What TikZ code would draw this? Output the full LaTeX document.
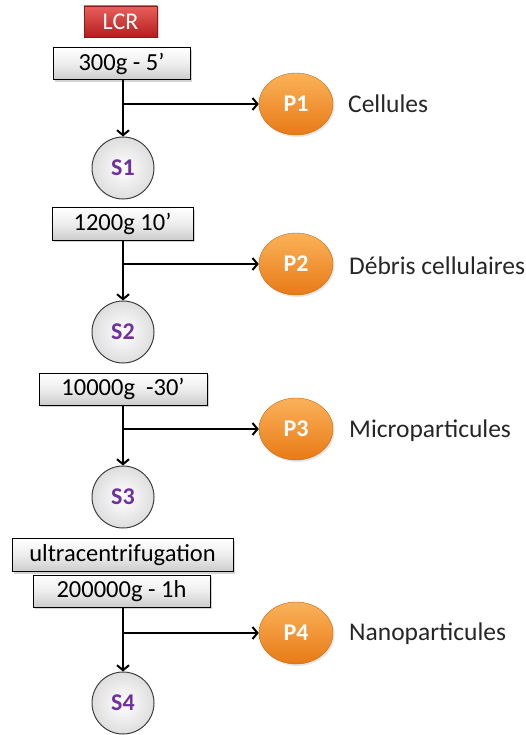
\documentclass[tikz,border=0pt]{standalone}
\usepackage{fontspec}
\setmainfont{Carlito}
\usetikzlibrary{arrows.meta,shadows,shapes.geometric}
\definecolor{spurple}{RGB}{112,48,160}
\definecolor{porange1}{RGB}{251,178,90}
\definecolor{porange2}{RGB}{232,122,22}
\definecolor{lcrtop}{RGB}{232,96,92}
\definecolor{lcrbot}{RGB}{180,30,30}
\tikzset{
  cbox/.style={draw=black, line width=1pt, top color=white, bottom color=black!20,
    middle color=black!7, inner sep=0pt, font=\fontsize{24.5}{24.5}\selectfont,
    drop shadow={opacity=0.35, shadow xshift=2pt, shadow yshift=-2pt}},
  lcrbox/.style={draw=lcrbot!80!black, line width=0.6pt, top color=lcrtop, bottom color=lcrbot,
    inner sep=0pt, text=white, font=\fontsize{24}{24}\selectfont,
    drop shadow={opacity=0.3, shadow xshift=1.5pt, shadow yshift=-1.5pt}},
  snode/.style={circle, draw=black!75, line width=1pt, inner sep=0pt, minimum size=62pt,
    inner color=white, outer color=black!13, text=spurple,
    font=\fontsize{24}{24}\selectfont\bfseries},
  pnode/.style={ellipse, draw=porange2!85!black, line width=0.4pt, inner sep=0pt,
    minimum width=74pt, minimum height=62pt, top color=porange1, bottom color=porange2,
    text=white, font=\fontsize{24}{24}\selectfont\bfseries,
    drop shadow={opacity=0.2, shadow xshift=1.5pt, shadow yshift=-2pt}},
  plabel/.style={anchor=west, inner sep=0pt, text=black!85, font=\fontsize{25.5}{25.5}\selectfont},
  flow/.style={line width=2.2pt, -{Straight Barb[length=5pt,width=12pt,line width=2pt]}}
}
\begin{document}
\begin{tikzpicture}[x=1pt,y=-1pt]
\useasboundingbox (0,0) rectangle (526,735);
% boxes
\node[lcrbox, minimum width=73pt, minimum height=31pt] (lcr) at (120.5,21.5) {LCR};
\node[cbox, minimum width=137pt, minimum height=32pt] (b1) at (121.5,64) {300g - 5’};
\node[cbox, minimum width=141pt, minimum height=32pt] (b2) at (122.5,224) {1200g 10’};
\node[cbox, minimum width=168pt, minimum height=32pt] (b3) at (123,389) {10000g \ -30’};
\node[cbox, minimum width=221pt, minimum height=33pt] (bu) at (122.5,555) {ultracentrifugation};
\node[cbox, minimum width=177pt, minimum height=32pt] (b4) at (121.5,591) {200000g - 1h};
% S nodes
\node[snode] (s1) at (123,168) {S1};
\node[snode] (s2) at (123,332) {S2};
\node[snode] (s3) at (123,497) {S3};
\node[snode] (s4) at (123,703) {S4};
% P nodes
\node[pnode] (p1) at (296,104) {P1};
\node[pnode] (p2) at (296,264) {P2};
\node[pnode] (p3) at (296,429) {P3};
\node[pnode] (p4) at (296,633) {P4};
% labels
\node[plabel] (l1) at (348,104) {Cellules};
\node[plabel] (l2) at (349,266) {Débris cellulaires};
\node[plabel] (l3) at (349,431) {Microparticules};
\node[plabel] (l4) at (349,634) {Nanoparticules};
% branch points
\coordinate (j1) at (123,104);
\coordinate (j2) at (123,264);
\coordinate (j3) at (123,429);
\coordinate (j4) at (123,633);
% connectors
\draw[flow] (b1.south -| j1) -- (s1.north);
\draw[flow] (b2.south -| j2) -- (s2.north);
\draw[flow] (b3.south -| j3) -- (s3.north);
\draw[flow] (b4.south -| j4) -- (s4.north);
\draw[flow] (j1) -- (p1.west);
\draw[flow] (j2) -- (p2.west);
\draw[flow] (j3) -- (p3.west);
\draw[flow] (j4) -- (p4.west);
\end{tikzpicture}
\end{document}
